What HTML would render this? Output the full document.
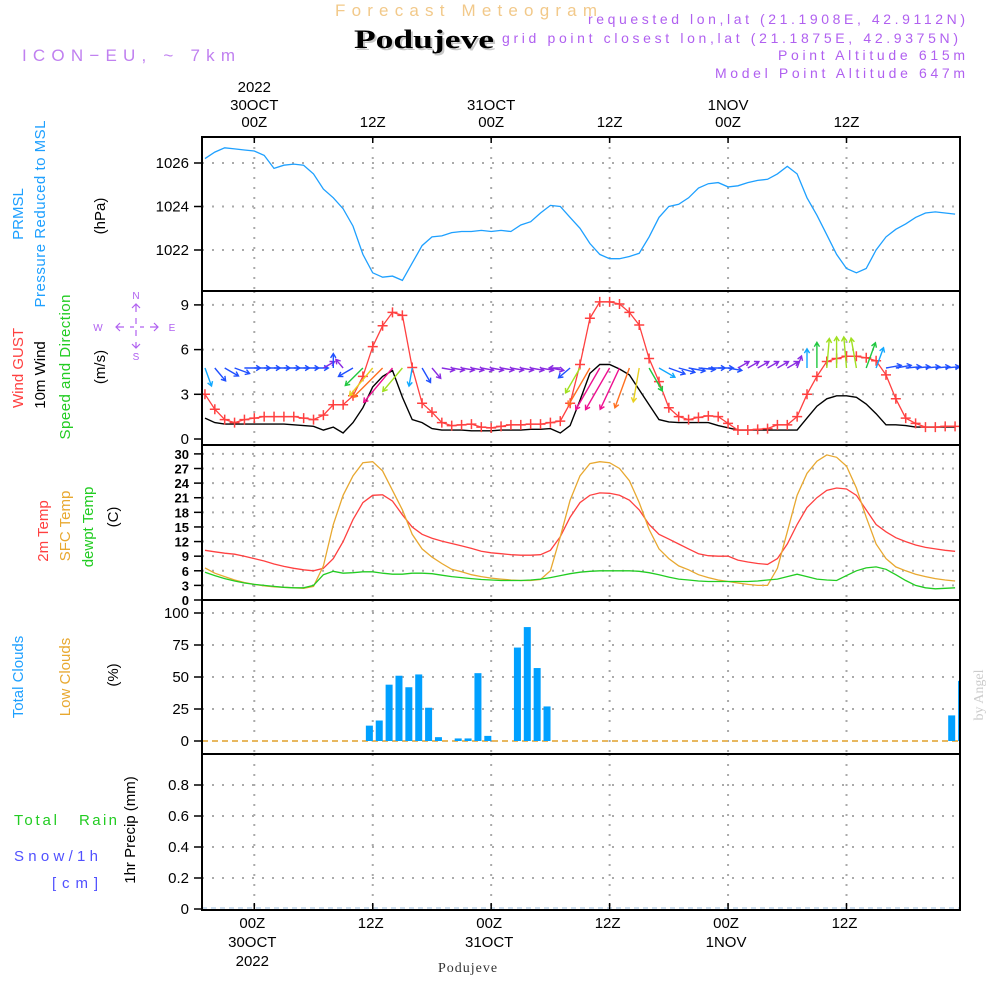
<!DOCTYPE html>
<html><head><meta charset="utf-8">
<style>
html,body{margin:0;padding:0;background:#fff;}
svg text{font-family:"Liberation Sans",sans-serif;}
</style></head>
<body>
<svg id="chart" width="1000" height="1000" viewBox="0 0 1000 1000" xmlns="http://www.w3.org/2000/svg">
<rect width="1000" height="1000" fill="#fff"/>
<text x="335" y="16" font-size="17" fill="#f2c98a" textLength="262" lengthAdjust="spacing">Forecast Meteogram</text>
<text x="356" y="50" font-size="26" font-weight="bold" fill="#c8c8c8" textLength="140" lengthAdjust="spacingAndGlyphs" style="font-family:'Liberation Serif',serif">Podujeve</text>
<text x="354" y="48" font-size="26" font-weight="bold" fill="#000" textLength="140" lengthAdjust="spacingAndGlyphs" style="font-family:'Liberation Serif',serif">Podujeve</text>
<g fill="#b060f0" font-size="14">
<text x="588" y="24" textLength="377" lengthAdjust="spacing">requested lon,lat (21.1908E, 42.9112N)</text>
<text x="502" y="43" textLength="456" lengthAdjust="spacing">grid point closest lon,lat (21.1875E, 42.9375N)</text>
<text x="778" y="60" textLength="187" lengthAdjust="spacing">Point Altitude 615m</text>
<text x="715" y="78" textLength="250" lengthAdjust="spacing">Model Point Altitude 647m</text>
</g>
<text x="22" y="61" font-size="17" fill="#c080f0" textLength="213" lengthAdjust="spacing">ICON−EU, ~ 7km</text>

<g id="grid"></g>
<g id="marks"></g>
<g id="frames"></g>
<g id="axes"></g>

<!-- left labels -->
<g font-size="15">
<text transform="translate(23,214) rotate(-90)" text-anchor="middle" fill="#1ea0ff">PRMSL</text>
<text transform="translate(45,214) rotate(-90)" text-anchor="middle" fill="#1ea0ff" textLength="187" lengthAdjust="spacing">Pressure Reduced to MSL</text>
<text transform="translate(105,216) rotate(-90)" text-anchor="middle" fill="#000">(hPa)</text>
</g>
<g font-size="15">
<text transform="translate(23,368) rotate(-90)" text-anchor="middle" fill="#ff4040">Wind GUST</text>
<text transform="translate(45,375) rotate(-90)" text-anchor="middle" fill="#000">10m Wind</text>
<text transform="translate(70,367) rotate(-90)" text-anchor="middle" fill="#22cc22" textLength="145" lengthAdjust="spacing">Speed and Direction</text>
<text transform="translate(105,367) rotate(-90)" text-anchor="middle" fill="#000">(m/s)</text>
<g fill="#b060f0" font-size="10" text-anchor="middle">
<text x="136" y="299">N</text>
<text x="136" y="360">S</text>
<text x="98" y="331">W</text><text x="172" y="331">E</text>
<path d="M116,327h8M130,327h4M140,327h4M150,327h8M120,323l-4,4l4,4M154,323l4,4l-4,4M136,304v8M136,318v6M136,330v6M136,342v6M132,308l4,-4l4,4M132,344l4,4l4,-4" stroke="#b060f0" stroke-width="1.2" fill="none"/>
</g>
</g>
<g font-size="15">
<text transform="translate(48,531) rotate(-90)" text-anchor="middle" fill="#ff4040">2m Temp</text>
<text transform="translate(70,526) rotate(-90)" text-anchor="middle" fill="#e8a830">SFC Temp</text>
<text transform="translate(93,527) rotate(-90)" text-anchor="middle" fill="#22cc22">dewpt Temp</text>
<text transform="translate(118,517) rotate(-90)" text-anchor="middle" fill="#000">(C)</text>
</g>
<g font-size="15">
<text transform="translate(23,677) rotate(-90)" text-anchor="middle" fill="#1ea0ff">Total Clouds</text>
<text transform="translate(70,677) rotate(-90)" text-anchor="middle" fill="#e8a830">Low Clouds</text>
<text transform="translate(118,675) rotate(-90)" text-anchor="middle" fill="#000">(%)</text>
</g>
<g font-size="15">
<text x="14" y="825" fill="#22cc22" textLength="43" lengthAdjust="spacing">Total</text><text x="79" y="825" fill="#22cc22" textLength="38" lengthAdjust="spacing">Rain</text>
<text x="14" y="861" fill="#5050ff" textLength="84" lengthAdjust="spacing">Snow/1h</text>
<text x="52" y="888" fill="#5050ff" textLength="46" lengthAdjust="spacing">[cm]</text>
<text transform="translate(135,830) rotate(-90)" text-anchor="middle" fill="#000">1hr Precip (mm)</text>
</g>
<text x="468" y="972" text-anchor="middle" font-size="14" fill="#333" letter-spacing="1" style="font-family:'Liberation Serif',serif">Podujeve</text>
<text transform="translate(983,695) rotate(-90)" text-anchor="middle" font-size="14" fill="#ccc" style="font-family:'Liberation Serif',serif">by Angel</text>
</svg>
<script>
// ---- data (hourly, starting 29OCT 19Z) ----
const pressure = [1026.2,1026.5,1026.7,1026.65,1026.6,1026.55,1026.35,1025.75,1025.9,1025.95,
1025.9,1025.5,1024.8,1024.4,1023.9,1023.1,1021.8,1020.95,1020.75,1020.8,
1020.6,1021.4,1022.2,1022.6,1022.65,1022.8,1022.85,1022.85,1022.9,1022.85,
1022.9,1022.85,1023.15,1023.3,1023.7,1024.05,1024.0,1023.5,1023.0,1022.3,
1021.8,1021.6,1021.6,1021.7,1021.85,1022.6,1023.5,1024.0,1024.1,1024.4,
1024.85,1025.05,1025.1,1024.9,1024.95,1025.1,1025.2,1025.25,1025.5,1025.85,
1025.5,1024.4,1023.6,1022.7,1021.8,1021.15,1020.95,1021.15,1022.0,1022.6,
1022.95,1023.2,1023.5,1023.7,1023.75,1023.7,1023.65];
const gust = [3.0,2.0,1.3,1.1,1.3,1.4,1.5,1.5,1.5,1.5,
1.4,1.3,1.6,2.3,2.3,2.9,4.2,6.2,7.6,8.5,
8.3,4.8,2.4,1.8,1.1,0.9,0.95,1.0,0.8,0.75,
0.85,0.95,0.95,1.0,1.0,1.1,1.2,2.4,5.0,8.1,
9.2,9.2,9.06,8.5,7.65,5.4,3.85,2.1,1.5,1.3,
1.45,1.55,1.5,1.05,0.6,0.6,0.65,0.7,0.95,0.95,
1.5,3.0,4.2,5.2,5.4,5.55,5.55,5.45,5.25,4.3,
2.7,1.4,1.05,0.8,0.8,0.85,0.85];
const wind = [1.4,1.1,1.0,1.0,1.0,1.0,1.0,1.0,1.0,0.95,
0.9,0.85,0.6,0.8,0.4,1.1,2.1,3.5,4.2,4.6,
2.8,1.3,1.1,0.7,0.6,0.6,0.6,0.55,0.55,0.55,
0.6,0.6,0.6,0.65,0.65,0.7,0.4,0.9,2.6,4.4,
5.0,5.0,4.7,4.3,3.3,2.3,1.3,1.15,1.1,1.1,
1.1,1.1,0.9,0.75,0.6,0.6,0.6,0.6,0.6,0.6,
0.6,1.4,2.2,2.7,2.9,2.9,2.8,2.35,1.7,0.95,
0.95,0.9,0.8,0.8,0.8,0.8,0.8];
const windDir = [340,320,300,290,270,270,270,270,270,270,
270,270,240,180,140,60,45,40,45,40,
40,10,330,320,280,280,280,280,280,280,
280,280,280,280,280,280,90,50,30,30,
30,30,25,20,10,330,300,290,285,280,
275,270,270,280,240,240,240,240,240,240,
200,180,180,185,180,175,170,200,200,260,
260,265,265,265,265,265,265];
const temp2m = [10.2,9.9,9.6,9.4,9.0,8.5,8.0,7.4,6.9,6.5,
6.2,6.0,6.5,8.5,12.0,16.5,20.0,21.5,21.6,20.3,
17.5,15.0,13.5,12.7,12.1,11.6,11.1,10.6,10.0,9.7,
9.5,9.3,9.2,9.2,9.3,10.2,13.0,17.0,20.0,21.5,
22.0,21.9,21.5,20.5,18.5,15.5,13.5,12.5,11.5,10.5,
9.5,9.1,9.0,9.0,8.2,7.8,7.5,7.3,8.5,11.5,
15.5,19.0,21.0,22.5,23.0,22.8,21.5,18.5,15.5,14.0,
12.8,12.0,11.3,10.8,10.5,10.2,10.0];
const sfcTemp = [6.6,5.5,4.8,4.1,3.6,3.2,2.9,2.7,2.6,2.5,
2.4,2.8,7,15.5,21.5,25.5,28.2,28.4,26.5,22.5,
18.5,13.5,10.5,8.8,7.5,6.3,5.8,5.2,4.8,4.5,
4.3,4.1,4.0,4.0,4.2,6.0,13,20.5,25.5,28.0,
28.4,28.2,27,24.5,20.0,14.5,10.5,8.5,7.0,6.2,
5.2,4.6,4.1,3.8,3.5,3.2,3.0,3.0,6.5,14,
21.5,26,28.5,29.8,29.3,27.5,23,17,11.5,8.5,
6.8,6.0,5.3,4.8,4.4,4.1,3.9];
const dewpt = [5.7,5.0,4.4,3.9,3.5,3.2,3.0,2.8,2.6,2.5,
2.5,3.0,5.2,5.9,5.5,5.6,5.8,5.8,5.5,5.3,
5.3,5.5,5.5,5.4,5.1,4.8,4.6,4.4,4.2,4.1,
4.0,4.0,4.0,4.1,4.3,4.6,5.0,5.4,5.7,5.9,
6.0,6.0,6.0,6.0,5.9,5.6,5.2,4.7,4.3,4.1,
3.9,3.8,3.8,3.8,3.8,3.8,3.9,4.1,4.3,4.8,
5.3,4.8,4.3,4.1,4.0,5.0,6.0,6.6,6.8,6.3,
5.2,4.0,3.0,2.5,2.3,2.4,2.5];
const cloudIdx = [16,17,18,19,20,21,22,23,25,26,27,28,31,32,33,34,75,76];
const cloudVal = [12,16,44,51,42,52,26,3,2,2,53,4,73,89,57,27,20,47];
const timeTicksH = [0,12,24,36,48,60];
const timeTickLbl = ["00Z","12Z","00Z","12Z","00Z","12Z"];
const dateLbl = ["30OCT","","31OCT","","1NOV",""];
const presTicks = [1022,1024,1026];
const windTicks = [0,3,6,9];
const tempTicks = [0,3,6,9,12,15,18,21,24,27,30];
const cloudTicks = [0,25,50,75,100];
const precipTicks = [0,0.2,0.4,0.6,0.8];
const precipTickLbl = ["0","0.2","0.4","0.6","0.8"];

// ---- scales ----
const X0=202, X1=960;
const xh = h => 254.3 + 9.87*h;
const xi = i => xh(i-5);
const py = p => 163 - (p-1026)*21.75;
const wy = v => 439 - v*14.9;
const ty = t => 600 - t*4.87;
const cy = c => 741 - c*1.28;
const ry = r => 909 - r*155;
const panels = [[137,291],[291,445],[445,600],[600,754],[754,910]];

const NS="http://www.w3.org/2000/svg";
function mk(tag, attrs, parent){const e=document.createElementNS(NS,tag);for(const k in attrs)e.setAttribute(k,attrs[k]);parent.appendChild(e);return e;}
const grid=document.getElementById('grid'), marks=document.getElementById('marks'), frames=document.getElementById('frames'), axes=document.getElementById('axes');

const defs=mk('defs',{},document.getElementById('chart'));
const cp=mk('clipPath',{id:'plotclip'},defs); mk('rect',{x:X0,y:137,width:X1-X0,height:773},cp);
marks.setAttribute('clip-path','url(#plotclip)');

timeTicksH.forEach(h=>{
  panels.forEach(p=>{
    const l=mk('line',{x1:xh(h),x2:xh(h),y1:p[0],y2:p[1],stroke:'#aaa','stroke-width':2,'stroke-dasharray':'2,8'},grid);
    
    
  });
});
function hgrid(vals, f){vals.forEach(v=>{const l=mk('line',{x1:X0,x2:X1,y1:f(v),y2:f(v),stroke:'#aaa','stroke-width':2,'stroke-dasharray':'2,8'},grid);
  
  });}
hgrid(presTicks,py); hgrid(windTicks.slice(1),wy); hgrid(tempTicks.slice(1),ty); hgrid(cloudTicks.slice(1),cy); hgrid(precipTicks.slice(1),ry);

function line(arr, f, color, name, w){
  const pts=arr.map((v,i)=>xi(i).toFixed(1)+','+f(v).toFixed(1)).join(' ');
  const l=mk('polyline',{points:pts,fill:'none',stroke:color,'stroke-width':w||1.3},marks);
  
  
}
line(pressure,py,'#1ea0ff','pressure-line');
line(wind,wy,'#000','wind-speed-line',1.4);
line(gust,wy,'#ff4040','wind-gust-line',1.3);
gust.forEach((v,i)=>{
  const g=mk('path',{d:`M${xi(i)-5},${wy(v)}h10M${xi(i)},${wy(v)-5}v10`,stroke:'#ff4040','stroke-width':1.5},marks);
  
  
});
function wcol(s){return s<0.75?'#8a2be2':s<1.25?'#2050ff':s<1.8?'#10a8ff':s<2.5?'#20c840':s<3.2?'#a0e020':s<4.0?'#e8d020':s<4.6?'#ff7020':'#ee1090';}
windDir.forEach((d,i)=>{
  const s=wind[i], L=8+8*s, r=d*Math.PI/180;
  const dx=-Math.sin(r), dy=Math.cos(r);
  const x1=xi(i), y1=368, x2=x1+dx*L, y2=y1+dy*L;
  const hx=-dx*5, hy=-dy*5;
  const a=0.55, c=Math.cos(a), sn=Math.sin(a);
  const p=`M${x1.toFixed(1)},${y1}L${x2.toFixed(1)},${y2.toFixed(1)}M${(x2+hx*c-hy*sn).toFixed(1)},${(y2+hx*sn+hy*c).toFixed(1)}L${x2.toFixed(1)},${y2.toFixed(1)}L${(x2+hx*c+hy*sn).toFixed(1)},${(y2-hx*sn+hy*c).toFixed(1)}`;
  const e=mk('path',{d:p,stroke:wcol(s),'stroke-width':1.4,fill:'none'},marks);
  
  
});
line(temp2m,ty,'#ff4040','temp-2m-line');
line(sfcTemp,ty,'#e8a830','sfc-temp-line');
line(dewpt,ty,'#22cc22','dewpoint-line');
const lc=mk('line',{x1:X0,x2:X1,y1:cy(0),y2:cy(0),stroke:'#e8b860','stroke-width':2,'stroke-dasharray':'6,4'},marks);


cloudIdx.forEach((idx,k)=>{
  const v=cloudVal[k];
  const b=mk('rect',{x:xi(idx)+3,y:cy(v),width:7,height:cy(0)-cy(v),fill:'#00a0ff'},marks);
  
  
});
const pl=mk('line',{x1:X0,x2:X1,y1:ry(0)-1,y2:ry(0)-1,stroke:'#9bd','stroke-width':1,'stroke-dasharray':'5,4'},marks);



panels.forEach(p=>{
  const r=mk('rect',{x:X0,y:p[0],width:X1-X0,height:p[1]-p[0],fill:'none',stroke:'#000','stroke-width':2},frames);
  
  
});

function yaxis(vals, f, lbls, name, fs, bold){
  vals.forEach((v,k)=>{
    const t=mk('line',{x1:194,x2:202,y1:f(v),y2:f(v),stroke:'#000','stroke-width':1.5},axes);
    
    
    const tx=mk('text',{x:189,y:f(v)+5,'text-anchor':'end','font-size':fs,fill:'#000'},axes);
    if(bold) tx.setAttribute('font-weight','bold');
    tx.textContent=lbls?lbls[k]:String(v);
    
    
  });
}
yaxis(presTicks,py,null,'pressure-axis',15);
yaxis(windTicks,wy,null,'wind-axis',15);
yaxis(tempTicks,ty,null,'temp-axis',13,true);
yaxis(cloudTicks,cy,null,'cloud-axis',15);
yaxis(precipTicks,ry,precipTickLbl,'precip-axis',15);

timeTicksH.forEach((h,k)=>{
  const x=xh(h);
  [[137,143],[903,910]].forEach(s=>{
    const t=mk('line',{x1:x,x2:x,y1:s[0],y2:s[1],stroke:'#000','stroke-width':1.5},axes);
    
    
  });
  const top=mk('text',{x:x,y:127,'text-anchor':'middle','font-size':15},axes);
  top.textContent=timeTickLbl[k];
  
  
  const bot=mk('text',{x:x-2,y:928,'text-anchor':'middle','font-size':15},axes);
  bot.textContent=timeTickLbl[k];
  
  
  if(dateLbl[k]){
    const d=mk('text',{x:x,y:110,'text-anchor':'middle','font-size':15},axes);
    d.textContent=dateLbl[k];
    
    
    const d2=mk('text',{x:x-2,y:947,'text-anchor':'middle','font-size':15},axes);
    d2.textContent=dateLbl[k];
    
    
  }
});
const y1=mk('text',{x:xh(0),y:92,'text-anchor':'middle','font-size':15},axes);
y1.textContent='2022';


const y2=mk('text',{x:xh(0)-2,y:966,'text-anchor':'middle','font-size':15},axes);
y2.textContent='2022';


</script>
</body></html>
